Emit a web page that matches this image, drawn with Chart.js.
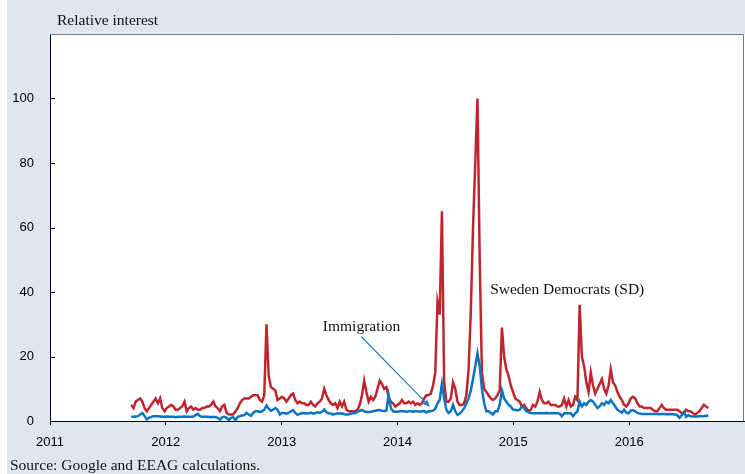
<!DOCTYPE html>
<html>
<head>
<meta charset="utf-8">
<script src="https://cdn.jsdelivr.net/npm/chart.js@4.4.1/dist/chart.umd.min.js"></script>
<style>
  html, body { margin: 0; padding: 0; background: #fff; }
  #wrap { position: absolute; left: 7px; top: 0; width: 738px; height: 474px; background: #dee6f2; }
  canvas { display: block; }
</style>
</head>
<body>
<div id="wrap"><canvas id="chart" width="738" height="474" style="width:738px;height:474px"></canvas></div>
<script>
'use strict';

// weekly Google Trends series, first week centred on 2011-09-14
const FIRST_WEEK = Date.UTC(2011, 8, 14);
const YEAR_TICKS = [2011, 2012, 2013, 2014, 2015, 2016];
const Y_TICKS = [0, 20, 40, 60, 80, 100];

const SD = [
  5,4,6,6.5,7,6,4,3,4,5,
  6,7,5.5,7,4,3,4,4.5,5,4.5,
  3.5,3.5,4,4.5,6,3,4,4.5,3.5,4,
  3.5,3.5,4,4,4.5,4.5,5,6,4.5,4,
  3,4.5,5,2.5,2,2,2,3,4,5.5,
  6.5,7,7,7,7.5,8,8,8,6.5,6,
  8,30,14,10.5,10,9.5,6.5,7,7.5,7,
  6,7,8,8.5,6.5,5.5,6,5.5,5.5,5,
  5,6,5,4.5,5.5,6,7,10,8,6.5,
  5.5,5,5.5,4,6,4.5,6,3.5,3,3,
  3,3,3.5,5,8,12.5,9,6,7.5,6.5,
  7.5,10,12.5,11.5,10,10.5,7.5,6,5.5,4.5,
  5,5.5,6.5,5.5,5.5,6,5.5,6,5,5.5,
  5,5.5,7,8,8,8.5,11,15,37,33,
  65,12,6,6,7,12,10,6,5,5,
  5.5,8,16,34,60,80,100,50,15,10,
  9,8,7,6.5,7,8,9.5,29,20,16,
  14,11,9,7,6.5,6,4.5,5,4,3,
  3.5,5,4.5,6,9,6.5,5.5,5.5,6,5,
  5,5,4.5,4.5,5,7,4.5,6.5,4.5,5,
  7.5,6.5,36,20,17,12,9,15,11,8.5,
  10,11.5,13,10,8.5,11,16,12,11,9,
  7.5,6.5,5,4.5,5.5,7,7.5,7,5.5,4.5,
  4.5,4,4,4,4,3.5,3,3,4,5,
  4,3.5,3.5,3.5,3.5,3.5,3.5,3,2.5,2.5,
  3.5,3,3,2.5,2,2.5,3,4,5,4.5,4
];

const IMMIGRATION = [
  1.3,1.3,1.4,1.5,2,2.5,1.5,0.5,1,1.3,
  1.5,1.5,1.5,1.4,1.3,1.3,1.4,1.3,1.3,1.3,
  1.2,1.3,1.3,1.3,1.4,1.3,1.3,1.3,1.4,1.8,
  2.2,1.5,1.3,1.3,1.3,1.3,1.2,1.3,1.2,1,
  0.4,1.2,1.3,1,0.2,1,1.2,0.2,1.3,1.5,
  1.7,1.8,2.5,2,1.6,2.5,3,3,2.8,3,
  3.5,4.8,3.8,3.2,3.5,4,3.5,2,2.5,2.5,
  2.3,2.5,3,3.4,2.5,1.9,2.2,2.5,2.4,2.3,
  2.3,2.6,2.3,2.5,2.7,2.6,2.8,3.6,2.7,2.4,
  2.3,2,2.2,2.4,2.3,2.4,2.1,2,2,2.3,
  2.4,2.5,2.8,3.2,3.4,3,2.8,2.8,2.9,3,
  3.2,3.3,3.4,3.2,3.1,3.2,8,4,3,2.9,
  2.9,3,3,3,2.9,3,3,2.9,3,3,
  2.9,3,3.1,2.6,3,3,3.2,3.8,5.5,6.5,
  11.5,7,3.5,2.5,3,5,3,1.9,2.3,3,
  4,5.5,7,9.5,13,17,21,17,10,5.5,
  3,3,2.5,2,3,3,5,9.5,7,6,
  5,4.5,3.5,3.5,3.3,3.5,4.5,4,3,2.7,
  2.5,2.4,2.4,2.4,2.5,2.4,2.4,2.5,2.4,2.4,
  2.5,2.4,2.4,2.3,1.5,2.4,2.4,2.4,2.4,1.5,
  2.4,3,6,4.5,5.5,5,6,6.5,6,5,
  4,4.5,5.5,5,6,5.5,6.5,5.5,4.5,3.5,
  3,2.6,3.5,2.6,2.4,3.2,3.4,3,2.5,2.3,
  2.2,2.2,2.2,2.2,2.2,2.2,2.2,2.2,2.1,2.2,
  2.2,2.1,2.2,2.1,2.1,2,1.8,1,1.8,2.8,
  1.3,1.8,1.5,1.4,1.4,1.4,1.5,1.5,1.5,1.6,1.6
];

const DAY = 86400000;
const weekYear = i => {
  const t = FIRST_WEEK + i * 7 * DAY;
  const y = new Date(t).getUTCFullYear();
  const y0 = Date.UTC(y, 0, 1), y1 = Date.UTC(y + 1, 0, 1);
  return y + (t - y0) / (y1 - y0);
};
const toPoints = arr => arr.map((v, i) => ({ x: weekYear(i), y: v }));

const SERIF = '"Liberation Serif", "Times New Roman", serif';
const SANS = '"Liberation Sans", Arial, sans-serif';

const frame = {
  id: 'frame',
  beforeDraw(chart) {
    const { ctx, chartArea: a } = chart;
    ctx.save();
    ctx.fillStyle = '#fff';
    ctx.fillRect(a.left, a.top, a.right - a.left, a.bottom - a.top);
    ctx.restore();
  },
  afterDraw(chart) {
    const { ctx, chartArea: a, scales: { x, y } } = chart;
    ctx.save();
    // top and right border of the plot
    ctx.strokeStyle = '#7a7a7a';
    ctx.lineWidth = 1;
    ctx.beginPath();
    ctx.moveTo(a.left, a.top + 0.5);
    ctx.lineTo(a.right - 1.5, a.top + 0.5);
    ctx.lineTo(a.right - 1.5, a.bottom);
    ctx.stroke();
    // inward y ticks
    ctx.strokeStyle = '#000';
    ctx.beginPath();
    Y_TICKS.forEach(v => {
      const py = Math.round(y.getPixelForValue(v)) + 0.5;
      ctx.moveTo(a.left, py);
      ctx.lineTo(a.left + 5, py);
    });
    ctx.stroke();

    ctx.fillStyle = '#111';
    ctx.textBaseline = 'middle';
    ctx.font = '15.5px ' + SERIF;
    ctx.textAlign = 'left';
    ctx.fillText('Relative interest', a.left + 7, 21);
    ctx.fillText('Sweden Democrats (SD)', x.getPixelForValue(2014.8), y.getPixelForValue(40.5));
    ctx.textAlign = 'center';
    ctx.fillText('Immigration', x.getPixelForValue(2013.69), y.getPixelForValue(29.3));
    ctx.textAlign = 'left';
    ctx.fillText('Source: Google and EEAG calculations.', 3, 466);

    // arrow to the immigration line
    const x0 = x.getPixelForValue(2013.686), y0 = y.getPixelForValue(26.2);
    const x1 = x.getPixelForValue(2014.28), y1 = y.getPixelForValue(4.4);
    const ang = Math.atan2(y1 - y0, x1 - x0);
    ctx.strokeStyle = '#1f78c1';
    ctx.fillStyle = '#1f78c1';
    ctx.lineWidth = 1.1;
    ctx.beginPath();
    ctx.moveTo(x0, y0);
    ctx.lineTo(x1 - 5 * Math.cos(ang), y1 - 5 * Math.sin(ang));
    ctx.stroke();
    ctx.beginPath();
    ctx.moveTo(x1, y1);
    ctx.lineTo(x1 - 7 * Math.cos(ang) + 3 * Math.sin(ang), y1 - 7 * Math.sin(ang) - 3 * Math.cos(ang));
    ctx.lineTo(x1 - 7 * Math.cos(ang) - 3 * Math.sin(ang), y1 - 7 * Math.sin(ang) + 3 * Math.cos(ang));
    ctx.closePath();
    ctx.fill();
    ctx.restore();
  }
};

new Chart(document.getElementById('chart'), {
  type: 'line',
  data: {
    datasets: [
      { label: 'Immigration', data: toPoints(IMMIGRATION), borderColor: '#0b74c1', borderWidth: 2.5, pointRadius: 0, tension: 0, order: 0 },
      { label: 'Sweden Democrats (SD)', data: toPoints(SD), borderColor: '#c0252f', borderWidth: 2.5, pointRadius: 0, tension: 0, order: 1 }
    ]
  },
  options: {
    responsive: false,
    animation: false,
    layout: { padding: { top: 34, right: 0, left: 0, bottom: 0 } },
    plugins: { legend: { display: false }, tooltip: { enabled: false } },
    scales: {
      x: {
        type: 'linear', min: 2011, max: 2017,
        afterBuildTicks: s => { s.ticks = YEAR_TICKS.concat([2017]).map(v => ({ value: v })); },
        ticks: { color: '#000', font: { family: SANS, size: 13 }, padding: 10, maxRotation: 0, autoSkip: false,
                 callback: v => (YEAR_TICKS.includes(v) ? String(v) : '') },
        grid: { drawOnChartArea: false, drawTicks: true, tickLength: 4, color: '#000' },
        border: { color: '#000', width: 1 },
        afterFit: s => { s.height = 53; s.paddingLeft = 0; s.paddingRight = 0; }
      },
      y: {
        min: 0, max: 120,
        afterBuildTicks: s => { s.ticks = Y_TICKS.map(v => ({ value: v })); },
        ticks: { color: '#000', font: { family: SANS, size: 13 }, padding: 8, callback: v => String(v) },
        grid: { display: false },
        border: { color: '#000', width: 1 },
        afterFit: s => { s.width = 43; }
      }
    }
  },
  plugins: [frame]
});
</script>
</body>
</html>
